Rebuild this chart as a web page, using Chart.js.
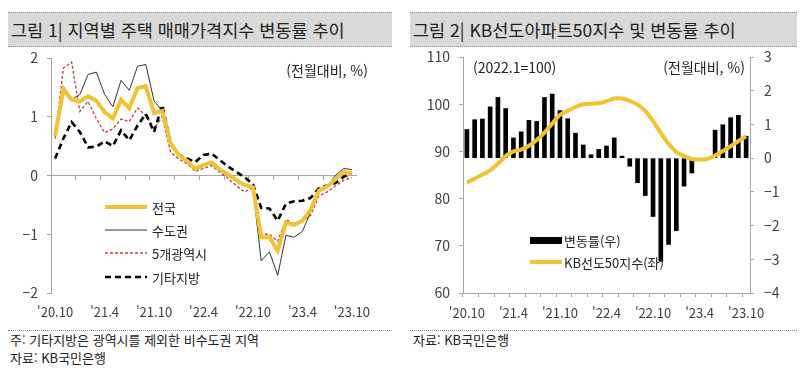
<!DOCTYPE html>
<html lang="ko">
<head>
<meta charset="utf-8">
<script src="https://cdn.jsdelivr.net/npm/chart.js@4.4.0/dist/chart.umd.min.js"></script>
<style>
  body { margin: 0; width: 807px; height: 370px; background: #fff; position: relative; overflow: hidden;
         font-family: "Noto Sans CJK KR", "Noto Sans", sans-serif; color: #222; }
  .title { position: absolute; top: 12px; height: 35px; background: #d9d9d9; box-sizing: border-box;
           border-top: 1px dotted #8c8c8c; border-bottom: 1px dotted #8c8c8c;
           font-size: 17.5px; line-height: 33px; padding-left: 3px; white-space: nowrap; }
  .txt { position: absolute; white-space: nowrap; line-height: 20px; }
  .rule { position: absolute; top: 330px; border-top: 1px dotted #8c8c8c; height: 0; }
  canvas { position: absolute; top: 50px; }
</style>
</head>
<body>
<div class="title" style="left:8px;width:384px;">그림 1| 지역별 주택 매매가격지수 변동률 추이</div>
<div class="title" style="left:410px;width:387px;">그림 2| KB선도아파트50지수 및 변동률 추이</div>

<canvas id="leftChart" width="400" height="280" style="left:0;"></canvas>
<canvas id="rightChart" width="407" height="280" style="left:400px;"></canvas>

<div class="txt" style="right:439px;top:60px;font-size:14px;">(전월대비, %)</div>
<div class="txt" style="left:473px;top:57px;font-size:14px;">(2022.1=100)</div>
<div class="txt" style="right:62px;top:57px;font-size:14px;">(전월대비, %)</div>

<div class="rule" style="left:8px;width:384px;"></div>
<div class="rule" style="left:410px;width:387px;"></div>
<div class="txt" style="left:10px;top:330px;font-size:13px;">주: 기타지방은 광역시를 제외한 비수도권 지역</div>
<div class="txt" style="left:10px;top:348px;font-size:13px;">자료: KB국민은행</div>
<div class="txt" style="left:413px;top:330px;font-size:13px;">자료: KB국민은행</div>

<script>
// months, '20.10 ~ '23.10
const months = ["'20.10","'20.11","'20.12","'21.1","'21.2","'21.3","'21.4","'21.5","'21.6","'21.7","'21.8","'21.9",
  "'21.10","'21.11","'21.12","'22.1","'22.2","'22.3","'22.4","'22.5","'22.6","'22.7","'22.8","'22.9",
  "'22.10","'22.11","'22.12","'23.1","'23.2","'23.3","'23.4","'23.5","'23.6","'23.7","'23.8","'23.9","'23.10"];

// 그림 1: 전월대비 변동률(%)
const nationwide = [0.68, 1.47, 1.29, 1.26, 1.35, 1.27, 1.08, 0.97, 1.29, 1.15, 1.49, 1.52, 1.06, 1.10,
  0.55, 0.35, 0.25, 0.11, 0.18, 0.22, 0.10, 0.02, -0.08, -0.16, -0.20, -1.05, -1.05, -1.28,
  -0.80, -0.84, -0.77, -0.58, -0.26, -0.19, -0.06, 0.06, 0.04];
const capital = [0.68, 1.52, 1.29, 1.38, 1.72, 1.76, 1.38, 1.17, 1.62, 1.45, 1.86, 1.89, 1.27, 1.10,
  0.55, 0.33, 0.24, 0.10, 0.18, 0.22, 0.10, 0.00, -0.10, -0.17, -0.22, -1.45, -1.30, -1.70,
  -1.02, -1.05, -0.95, -0.62, -0.25, -0.18, 0.00, 0.12, 0.10];
const metroCities = [0.63, 1.83, 1.93, 1.09, 1.26, 0.97, 0.73, 0.79, 0.96, 0.92, 1.15, 1.02, 0.80, 1.00,
  0.40, 0.28, 0.20, 0.07, 0.12, 0.17, 0.05, -0.05, -0.18, -0.28, -0.20, -1.00, -1.00, -1.12,
  -0.75, -0.82, -0.78, -0.68, -0.35, -0.28, -0.18, -0.08, -0.04];
const otherRegions = [0.29, 0.63, 0.91, 0.74, 0.48, 0.49, 0.58, 0.50, 0.77, 0.60, 0.85, 1.05, 0.74, 1.20,
  0.55, 0.35, 0.29, 0.23, 0.35, 0.37, 0.26, 0.15, 0.06, -0.03, -0.15, -0.55, -0.56, -0.77,
  -0.48, -0.44, -0.43, -0.38, -0.22, -0.17, -0.13, -0.02, 0.04];

// 그림 2: KB선도50지수(좌), 변동률(우)
const kb50Index = [83.4, 84.2, 85.1, 86.0, 87.4, 89.0, 90.0, 90.4, 91.2, 92.4, 94.0, 95.9, 97.7, 98.6,
  99.4, 100.0, 100.1, 100.2, 100.6, 101.2, 101.2, 100.7, 99.9, 98.6, 96.4, 93.9, 91.6, 89.9,
  89.0, 88.4, 88.3, 88.4, 89.1, 90.1, 91.1, 92.2, 93.2];
const kb50Change = [0.85, 1.14, 1.16, 1.52, 1.80, 1.47, 0.60, 0.78, 1.12, 1.09, 1.80, 1.90, 1.41, 1.17,
  0.74, 0.39, 0.10, 0.26, 0.36, 0.60, 0.06, -0.24, -0.73, -1.11, -1.73, -3.06, -2.56, -2.15,
  -0.83, -0.44, -0.02, 0.02, 0.83, 0.99, 1.20, 1.27, 0.65];

const leftTicks = [-2, -1, 0, 1, 2];
const indexTicks = [60, 70, 80, 90, 100, 110];
const changeTicks = [-4, -3, -2, -1, 0, 1, 2, 3];

const axisGray = '#a6a6a6';
const tickText = '#404040';
const gold = '#f1c232';

Chart.defaults.font.family = '"Noto Sans CJK KR", "Noto Sans", sans-serif';
Chart.defaults.color = tickText;

function minus(v) {
    return v < 0 ? '\u2212' + Math.abs(v) : String(v);
}

// fixed axis width, no extra top/bottom padding from labels
function fixWidth(w) {
    return function(s) {
        s.width = w;
        s.paddingTop = 0;
        s.paddingBottom = 0;
    };
}

// legend drawn inside the plot, like the original
const leftLegend = {
    id: 'leftLegend',
    afterDraw(chart) {
        const ctx = chart.ctx;
        const rows = [157, 180, 203, 227];
        ctx.save();
        ctx.font = '13px "Noto Sans CJK KR", sans-serif';
        ctx.textBaseline = 'middle';
        chart.data.datasets.forEach(function(ds, i) {
            ctx.beginPath();
            ctx.strokeStyle = ds.borderColor;
            ctx.lineWidth = ds.borderWidth;
            ctx.setLineDash(ds.borderDash || []);
            ctx.moveTo(105, rows[i]);
            ctx.lineTo(147, rows[i]);
            ctx.stroke();
            ctx.fillStyle = '#222';
            ctx.fillText(ds.label, 152, rows[i] + 1);
        });
        ctx.restore();
    }
};

const rightLegend = {
    id: 'rightLegend',
    afterDraw(chart) {
        const ctx = chart.ctx;
        ctx.save();
        ctx.font = '13px "Noto Sans CJK KR", sans-serif';
        ctx.textBaseline = 'middle';
        ctx.fillStyle = '#000';
        ctx.fillRect(130, 187, 32, 7);
        ctx.beginPath();
        ctx.strokeStyle = gold;
        ctx.lineWidth = 4;
        ctx.moveTo(130, 212);
        ctx.lineTo(162, 212);
        ctx.stroke();
        ctx.fillStyle = '#222';
        ctx.fillText(chart.data.datasets[1].label, 164, 191);
        ctx.fillText(chart.data.datasets[0].label, 164, 213);
        ctx.restore();
    }
};

new Chart(document.getElementById('leftChart').getContext('2d'), {
    type: 'line',
    data: {
        labels: months,
        datasets: [
            { label: '전국', data: nationwide, borderColor: gold, borderWidth: 4, pointRadius: 0, tension: 0, order: 0 },
            { label: '수도권', data: capital, borderColor: '#333333', borderWidth: 1, pointRadius: 0, tension: 0, order: 2 },
            { label: '5개광역시', data: metroCities, borderColor: '#b8433f', borderWidth: 1.3, borderDash: [3, 2], pointRadius: 0, tension: 0, order: 3 },
            { label: '기타지방', data: otherRegions, borderColor: '#000000', borderWidth: 2.6, borderDash: [6, 4], pointRadius: 0, tension: 0, order: 1 }
        ]
    },
    options: {
        responsive: false,
        animation: false,
        layout: { padding: { top: 8, right: 44, left: 0, bottom: 0 } },
        plugins: { legend: { display: false }, tooltip: { enabled: false } },
        scales: {
            x: {
                position: { y: 0 },
                offset: true,
                border: { display: true, color: axisGray },
                grid: {
                    offset: true,
                    drawOnChartArea: false,
                    tickLength: 4,
                    color: function(c) { return c.index % 3 === 0 ? axisGray : 'rgba(0,0,0,0)'; }
                },
                ticks: { display: false, autoSkip: false }
            },
            x2: {
                type: 'category',
                position: 'bottom',
                offset: true,
                border: { display: false },
                grid: { display: false, drawTicks: false },
                ticks: {
                    autoSkip: false, maxRotation: 0, padding: 11,
                    font: { size: 13 },
                    callback: function(v, i) { return i % 6 === 0 ? months[i] : ''; }
                },
                afterFit: function(s) { s.height = 37; s.paddingLeft = 0; s.paddingRight = 0; }
            },
            y: {
                min: -2, max: 2,
                border: { display: true, color: axisGray },
                grid: { drawOnChartArea: false, tickLength: 4, color: axisGray },
                afterBuildTicks: function(s) { s.ticks = leftTicks.map(function(v) { return { value: v }; }); },
                ticks: { padding: 9, font: { size: 14, lineHeight: 1 }, callback: minus },
                afterFit: fixWidth(51)
            }
        }
    },
    plugins: [leftLegend]
});

new Chart(document.getElementById('rightChart').getContext('2d'), {
    type: 'bar',
    data: {
        labels: months,
        datasets: [
            { type: 'line', label: 'KB선도50지수(좌)', data: kb50Index, yAxisID: 'y', borderColor: gold, borderWidth: 4,
              pointRadius: 0, tension: 0.4, order: 0 },
            { type: 'bar', label: '변동률(우)', data: kb50Change, yAxisID: 'y1', backgroundColor: '#000000',
              barThickness: 4, order: 1 }
        ]
    },
    options: {
        responsive: false,
        animation: false,
        layout: { padding: { top: 7, right: 0, left: 0, bottom: 0 } },
        plugins: { legend: { display: false }, tooltip: { enabled: false } },
        scales: {
            x: {
                offset: true,
                border: { display: true, color: axisGray },
                grid: {
                    offset: true,
                    drawOnChartArea: false,
                    tickLength: 4,
                    color: function(c) { return c.index % 2 === 0 ? axisGray : 'rgba(0,0,0,0)'; }
                },
                ticks: {
                    autoSkip: false, maxRotation: 0, padding: 8,
                    font: { size: 13 },
                    callback: function(v, i) { return i % 6 === 0 ? months[i] : ''; }
                },
                afterFit: function(s) { s.height = 37; s.paddingLeft = 0; s.paddingRight = 0; }
            },
            y: {
                position: 'left',
                min: 60, max: 110,
                border: { display: true, color: axisGray },
                grid: { drawOnChartArea: false, tickLength: 4, color: axisGray },
                afterBuildTicks: function(s) { s.ticks = indexTicks.map(function(v) { return { value: v }; }); },
                ticks: { padding: 9, font: { size: 14, lineHeight: 1 } },
                afterFit: fixWidth(63)
            },
            y1: {
                position: 'right',
                min: -4, max: 3,
                border: { display: true, color: axisGray },
                grid: { drawOnChartArea: false, tickLength: 4, color: axisGray },
                afterBuildTicks: function(s) { s.ticks = changeTicks.map(function(v) { return { value: v }; }); },
                ticks: { padding: 10, font: { size: 14, lineHeight: 1 }, callback: minus },
                afterFit: fixWidth(57)
            }
        }
    },
    plugins: [rightLegend]
});
</script>
</body>
</html>
